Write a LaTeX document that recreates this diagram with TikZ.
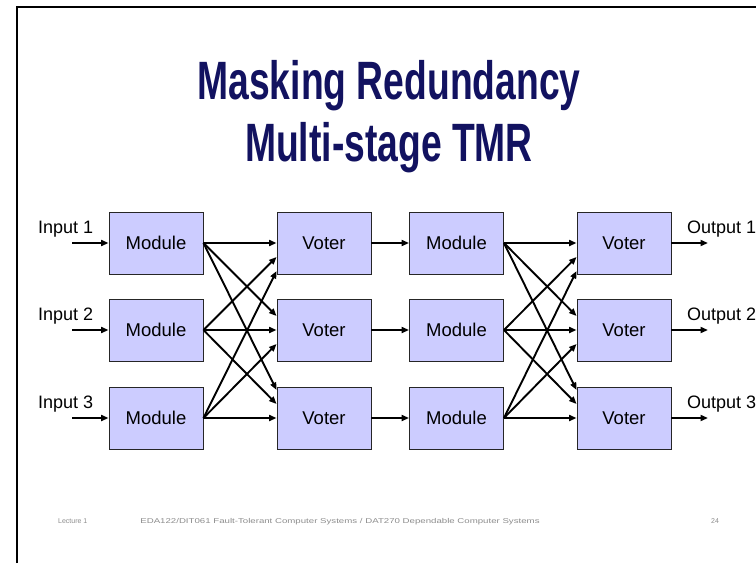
\documentclass[tikz,border=0pt]{standalone}
\usepackage{fontspec}
\setmainfont{Liberation Sans}
\usetikzlibrary{arrows.meta,calc}
\definecolor{titleblue}{RGB}{18,18,96}
\definecolor{boxfill}{RGB}{204,204,255}
\definecolor{footgray}{RGB}{140,140,140}
\tikzset{
  x=1pt, y=-1pt,
  blk/.style={draw=black!85, line width=0.9pt, fill=boxfill,
    minimum width=94pt, minimum height=62pt, inner sep=0pt,
    font=\fontsize{18.5}{20}\selectfont},
  wire/.style={line width=1.9pt, -{Triangle[length=7.5pt,width=6pt]}},
  lbl/.style={anchor=base west, inner sep=0pt, font=\fontsize{18}{20}\selectfont},
  foot/.style={anchor=base, inner sep=0pt, text=footgray, font=\fontsize{7}{8}\selectfont},
  ttl/.style={anchor=base, inner sep=0pt, text=titleblue,
    font=\fontsize{54}{60}\selectfont\bfseries}
}
\begin{document}
\begin{tikzpicture}
\useasboundingbox (0,0) rectangle (756,563);
% slide frame (top and left edges)
\draw[line width=2.5pt] (17,563) -- (17,7) -- (756,7);

% title
\node[ttl] (t1) at (389,99) {\scalebox{0.69}[1]{Masking Redundancy}};
\node[ttl] (t2) at (389,161) {\scalebox{0.69}[1]{Multi-stage TMR}};

% four columns of blocks, three rows
\foreach \r/\y in {1/243, 2/330, 3/418} {
  \node[blk] (ma\r) at (156,\y) {Module};
  \node[blk] (va\r) at (324,\y) {Voter};
  \node[blk] (mb\r) at (456.5,\y) {Module};
  \node[blk] (vb\r) at (624,\y) {Voter};
  \coordinate (in\r) at (72,\y);
  \coordinate (out\r) at (708,\y);
  \node[lbl] (inl\r) at (38,\y-10) {Input \r};
  \node[lbl] (outl\r) at (687,\y-10) {Output \r};
  \draw[wire] (in\r) -- (ma\r.west);
  \draw[wire] (va\r.east) -- (mb\r.west);
  \draw[wire] (vb\r.east) -- (out\r);
}

% every module feeds every voter of the next stage
\foreach \i in {1,2,3} {
  \foreach \j in {1,2,3} {
    \pgfmathsetmacro{\off}{-14*(\i-\j)}
    \draw[wire] (ma\i.east) -- ([yshift=\off pt]va\j.west);
    \draw[wire] (mb\i.east) -- ([yshift=\off pt]vb\j.west);
  }
}

% footer
\node[foot, anchor=base west] (f1) at (58,523) {Lecture 1};
\node[foot] (f2) at (340,523) {\scalebox{1.38}[1]{EDA122/DIT061 Fault-Tolerant Computer Systems / DAT270 Dependable Computer Systems}};
\node[foot] (f3) at (715,523) {24};
\end{tikzpicture}
\end{document}
